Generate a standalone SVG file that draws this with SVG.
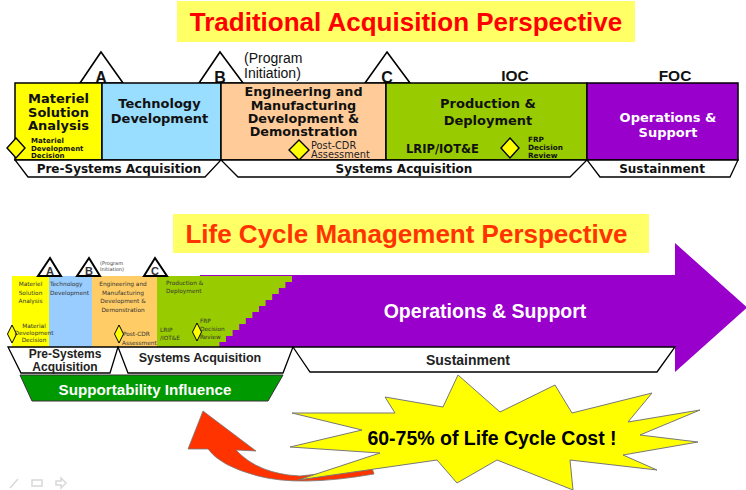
<svg xmlns="http://www.w3.org/2000/svg" width="746" height="490" viewBox="0 0 746 490">
<style>
.ol{stroke:#000;stroke-width:1.5}
.tb{font-family:"DejaVu Sans",Verdana,sans-serif;font-weight:bold;fill:#111}
.tr{font-family:"DejaVu Sans",Verdana,sans-serif;fill:#222}
.ar{font-family:"Liberation Sans",Arial,sans-serif;font-weight:bold}
.title{font-family:"Liberation Sans",Arial,sans-serif;font-weight:bold;font-size:26px;text-anchor:middle}
.band{fill:#fff;stroke:#000;stroke-width:1.3}
.tri{fill:#fff;stroke:#000;stroke-width:1.6}
.dia{fill:#ffff00;stroke:#000;stroke-width:1.4}
.mid{text-anchor:middle}
.tiny{font-family:"DejaVu Sans",Verdana,sans-serif;font-size:5.8px;fill:#333}
</style>

<!-- Titles -->
<g id="title-traditional">
<rect x="177" y="1" width="458" height="41" fill="#ffff66"/>
<text class="title" x="406" y="31" fill="#ff0000">Traditional Acquisition Perspective</text>
</g>
<g id="title-lifecycle">
<rect x="173" y="214" width="476" height="39" fill="#ffff66"/>
<text class="title" x="406.5" y="243" fill="#ff3300">Life Cycle Management Perspective</text>
</g>

<!-- TOP: milestones -->
<g id="top-milestone-A">
<polygon class="tri" points="101,52 123,83 80,83"/>
<text class="ar mid" x="101" y="83" font-size="16" fill="#111">A</text>
</g>
<g id="top-milestone-B">
<polygon class="tri" points="220,52 243,83 199,83"/>
<text class="ar mid" x="220" y="83" font-size="16" fill="#111">B</text>
</g>
<g id="top-milestone-C">
<polygon class="tri" points="387,52 410,83 365,83"/>
<text class="ar mid" x="387" y="83" font-size="16" fill="#111">C</text>
</g>
<g id="top-program-initiation">
<text font-family="Liberation Sans, Arial, sans-serif" font-size="14" fill="#111"><tspan x="244" y="63">(Program</tspan><tspan x="244" y="78">Initiation)</tspan></text>
</g>
<g id="top-ioc"><text class="ar mid" x="515" y="81" font-size="15.5" fill="#111">IOC</text></g>
<g id="top-foc"><text class="ar mid" x="675" y="81" font-size="15.5" fill="#111">FOC</text></g>

<!-- TOP: phases -->
<g id="top-msa">
<rect class="ol" x="15" y="83" width="87" height="77" fill="#ffff00"/>
<text class="tb mid" font-size="13"><tspan x="58.5" y="103">Materiel</tspan><tspan x="58.5" y="116.5">Solution</tspan><tspan x="58.5" y="130">Analysis</tspan></text>
<polygon class="dia" points="16,138 25,148 16,158 7,148"/>
<text class="tb" font-size="7" fill="#333"><tspan x="31" y="143">Materiel</tspan><tspan x="31" y="150.5">Development</tspan><tspan x="31" y="158">Decision</tspan></text>
</g>
<g id="top-td">
<rect class="ol" x="102" y="83" width="119" height="77" fill="#99ddff"/>
<text class="tb mid" font-size="13"><tspan x="159.5" y="108">Technology</tspan><tspan x="159.5" y="122.5">Development</tspan></text>
</g>
<g id="top-emd">
<rect class="ol" x="221" y="83" width="165" height="77" fill="#ffcc99"/>
<text class="tb mid" font-size="12.8"><tspan x="303.5" y="96">Engineering and</tspan><tspan x="303.5" y="109.5">Manufacturing</tspan><tspan x="303.5" y="123">Development &amp;</tspan><tspan x="303.5" y="136">Demonstration</tspan></text>
<polygon class="dia" points="299,140 309,150 299,160 289,150"/>
<text class="tr" font-size="9.8" fill="#222"><tspan x="311" y="149">Post-CDR</tspan><tspan x="311" y="158">Assessment</tspan></text>
</g>
<g id="top-pd">
<rect class="ol" x="386" y="83" width="201" height="77" fill="#99cc00"/>
<text class="tb mid" font-size="13"><tspan x="488" y="107.5">Production &amp;</tspan><tspan x="488" y="124.5">Deployment</tspan></text>
<text class="tb" x="406" y="153" font-size="11.5">LRIP/IOT&amp;E</text>
<polygon class="dia" points="510,138 519,148 510,158 501,148"/>
<text class="tb" font-size="7.3" fill="#333"><tspan x="528" y="142">FRP</tspan><tspan x="528" y="150">Decision</tspan><tspan x="528" y="158">Review</tspan></text>
</g>
<g id="top-os">
<rect class="ol" x="587" y="83" width="151" height="77" fill="#9900cc"/>
<text class="tb mid" font-size="13" style="fill:#fff"><tspan x="668" y="121.5">Operations &amp;</tspan><tspan x="668" y="136.5">Support</tspan></text>
</g>
<g id="top-band-presystems">
<polygon class="band" points="15,160 221,160 205,177 28,177"/>
<text class="tb mid" x="119" y="172.5" font-size="12">Pre-Systems Acquisition</text>
</g>
<g id="top-band-systems">
<polygon class="band" points="221,160 587,160 570,177 238,177"/>
<text class="tb mid" x="404" y="172.5" font-size="12">Systems Acquisition</text>
</g>
<g id="top-band-sustainment">
<polygon class="band" points="587,160 738,160 730,177 600,177"/>
<text class="tb mid" x="662" y="172.5" font-size="12">Sustainment</text>
</g>

<!-- BOTTOM: life cycle -->
<g id="os-arrow">
<polygon points="200,275 675,275 675,243 747,307.5 675,372 675,347 200,347" fill="#9900cc"/>
<text class="ar mid" x="485" y="318" font-size="19.5" fill="#fff">Operations &amp; Support</text>
</g>
<g id="low-msa">
<rect x="12" y="276" width="37" height="71" fill="#ffff00"/>
<text class="tiny mid"><tspan x="30.5" y="286">Materiel</tspan><tspan x="30.5" y="294.5">Solution</tspan><tspan x="30.5" y="303">Analysis</tspan></text>
</g>
<g id="low-td">
<rect x="49" y="276" width="43" height="71" fill="#99ccff"/>
<text class="tiny"><tspan x="50" y="286">Technology</tspan><tspan x="50" y="294.5">Development</tspan></text>
</g>
<g id="low-emd">
<rect x="92" y="276" width="65" height="71" fill="#ffcc66"/>
<text class="tiny mid"><tspan x="123" y="286">Engineering and</tspan><tspan x="123" y="294.5">Manufacturing</tspan><tspan x="123" y="303">Development &amp;</tspan><tspan x="123" y="311.5">Demonstration</tspan></text>
</g>
<g id="low-pd">
<path d="M157,276 H292 v6 h-6.6 v6 h-6.6 v6 h-6.6 v6 h-6.6 v6 h-6.6 v6 h-6.6 v6 h-6.6 v6 h-6.6 v6 h-6.6 v6 h-6.6 v6 h-6.6 v5 h-6.6 V347 H157 Z" fill="#99cc00"/>
<text class="tiny"><tspan x="166" y="285">Production &amp;</tspan><tspan x="166" y="292.5">Deployment</tspan></text>
<text class="tiny"><tspan x="160" y="332">LRIP</tspan><tspan x="160" y="340">/IOT&amp;E</tspan></text>
<polygon class="dia" points="197,323 201.5,332 197,341 192.5,332" style="stroke-width:1"/>
<text class="tiny"><tspan x="200" y="323">FRP</tspan><tspan x="200" y="331">Decision</tspan><tspan x="200" y="339">Review</tspan></text>
</g>
<g id="low-mdd">
<polygon class="dia" points="12,325 16.5,334 12,343 7.5,334" style="stroke-width:1"/>
<text class="tiny mid"><tspan x="34" y="328">Material</tspan><tspan x="34" y="335">Development</tspan><tspan x="34" y="342">Decision</tspan></text>
</g>
<g id="low-postcdr">
<polygon class="dia" points="119,325 123.5,334 119,343 114.5,334" style="stroke-width:1"/>
<text class="tiny"><tspan x="123" y="336">Post-CDR</tspan><tspan x="122" y="344.5">Assessment</tspan></text>
</g>
<g id="low-milestone-A">
<polygon class="tri" points="50,258 61,276 38,276" style="stroke-width:2"/>
<text class="ar mid" x="50" y="275" font-size="11" fill="#333">A</text>
</g>
<g id="low-milestone-B">
<polygon class="tri" points="89,258 100,276 77,276" style="stroke-width:2"/>
<text class="ar mid" x="89" y="275" font-size="11" fill="#333">B</text>
</g>
<g id="low-milestone-C">
<polygon class="tri" points="155,258 167,276 144,276" style="stroke-width:2"/>
<text class="ar mid" x="155" y="275" font-size="11" fill="#333">C</text>
</g>
<g id="low-program-initiation">
<text font-family="DejaVu Sans, Verdana, sans-serif" font-size="5" fill="#444"><tspan x="100" y="265">(Program</tspan><tspan x="100" y="270.5">Initiation)</tspan></text>
</g>
<g id="low-band-presystems">
<polygon class="band" points="8,347 118,347 110,373 21,373"/>
<text class="ar mid" font-size="12" fill="#222"><tspan x="65" y="357.5">Pre-Systems</tspan><tspan x="65" y="371">Acquisition</tspan></text>
</g>
<g id="low-band-systems">
<polygon class="band" points="118,347 293,347 283,373 128,373"/>
<text class="ar mid" x="200" y="361.5" font-size="12.5" fill="#222">Systems Acquisition</text>
</g>
<g id="low-band-sustainment">
<polygon class="band" points="293,347 675,347 657,372 310,372"/>
<text class="ar mid" x="468" y="365" font-size="14" fill="#222">Sustainment</text>
</g>
<g id="supportability">
<polygon points="20,375 283,375 268,401 32,401" fill="#009900" stroke="#333" stroke-width="1"/>
<text class="ar mid" x="145" y="394.5" font-size="15.2" fill="#fff">Supportability Influence</text>
</g>

<g id="connectors">
<path d="M203,411 L256,451 L236,450 Q258,474 300,476 L372,468 L374,474 Q300,487 258,476 Q220,466 208,449 L188,449 Z" fill="#ff3300" stroke="#777" stroke-width="0.8"/>
</g>

<g id="cost-burst">
<polygon points="458,375 500,412 555,385 572,413 652,393 628,422 700,410 640,435 698,442 623,455 657,470 570,460 573,490 497,460 457,483 437,460 298,480 380,453 290,447 362,430 292,413 395,413 385,397 443,407" fill="#ffff00" stroke="#777" stroke-width="1"/>
<text class="ar mid" x="492" y="445" font-size="19.5" fill="#000">60-75% of Life Cycle Cost !</text>
</g>

<g id="slide-controls" fill="none" stroke="#d8d8d8" stroke-width="1.5">
<line x1="10" y1="488" x2="18" y2="479"/>
<rect x="32" y="480" width="10" height="6"/>
<path d="M56,481 h5 v-3 l5,5 l-5,5 v-3 h-5 z"/>
</g>
</svg>
